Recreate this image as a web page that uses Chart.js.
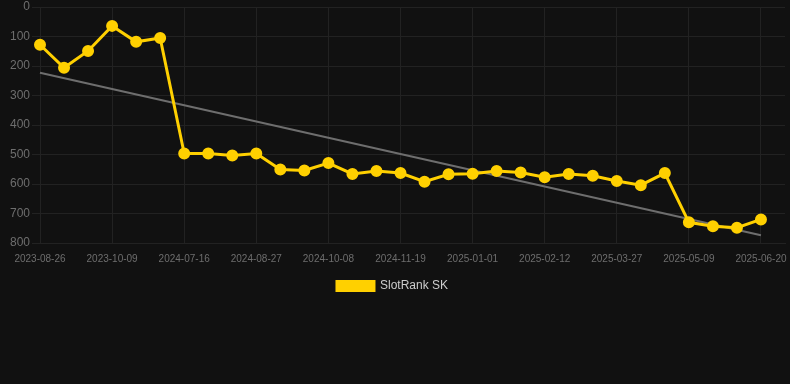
<!DOCTYPE html>
<html>
<head>
<meta charset="utf-8">
<script src="https://cdn.jsdelivr.net/npm/chart.js@4.4.1/dist/chart.umd.min.js"></script>
<style>
  html, body { margin: 0; padding: 0; background: #111111; }
  #wrap { width: 790px; height: 302px; }
</style>
</head>
<body>
<div id="wrap"><canvas id="rankChart"></canvas></div>
<script>
const labels = [
  '2023-08-26', '2023-09-09', '2023-09-23', '2023-10-09', '2023-10-23', '2023-11-06',
  '2024-07-16', '2024-07-30', '2024-08-13', '2024-08-27', '2024-09-10', '2024-09-24',
  '2024-10-08', '2024-10-22', '2024-11-05', '2024-11-19', '2024-12-03', '2024-12-17',
  '2025-01-01', '2025-01-15', '2025-01-29', '2025-02-12', '2025-02-26', '2025-03-12',
  '2025-03-27', '2025-04-10', '2025-04-24', '2025-05-09', '2025-05-23', '2025-06-06',
  '2025-06-20', '2025-07-04'
];
const rankSK = [
  128, 206, 149, 64, 118, 105,
  497, 497, 503, 497, 551, 554,
  529, 566, 556, 563, 592, 567,
  565, 556, 561, 577, 566, 572,
  590, 604, 563, 730, 743, 748,
  720, null
];
// trend line end points
const trendStart = 223;
const trendEnd = 774;
const trend = labels.map((l, i) => i === 0 ? trendStart : (i === 30 ? trendEnd : null));

const yTicks = [0, 100, 200, 300, 400, 500, 600, 700, 800];

const ctx = document.getElementById('rankChart');
new Chart(ctx, {
  type: 'line',
  data: {
    labels: labels,
    datasets: [{
      label: 'SlotRank SK',
      data: rankSK,
      borderColor: '#FFD000',
      backgroundColor: '#FFD000',
      borderWidth: 3,
      pointRadius: 4.5,
      pointHoverRadius: 6,
      tension: 0
    }, {
      label: 'trend',
      data: trend,
      borderColor: '#6e6e6e',
      borderWidth: 2,
      pointRadius: 0,
      spanGaps: true,
      tension: 0
    }]
  },
  options: {
    responsive: true,
    maintainAspectRatio: false,
    animation: false,
    layout: { autoPadding: false, padding: { right: 5 } },
    plugins: {
      legend: {
        position: 'bottom',
        labels: {
          color: '#cccccc',
          font: { size: 12 },
          boxWidth: 37,
          boxHeight: 9,
          padding: 5,
          filter: item => item.text !== 'trend'
        }
      },
      tooltip: { enabled: false }
    },
    scales: {
      x: {
        grid: { color: '#222222', drawTicks: false },
        border: { color: '#222222' },
        ticks: { color: '#6e6e6e', font: { size: 10 }, maxRotation: 0, padding: 10, autoSkipPadding: 3 },
        afterFit: s => { s.paddingRight = 0; }
      },
      y: {
        reverse: true,
        min: 0,
        max: 800,
        afterBuildTicks: axis => { axis.ticks = yTicks.map(v => ({ value: v })); },
        afterFit: s => { s.width = 40; s.paddingTop = 7; },
        grid: { color: '#222222' },
        border: { color: '#222222' },
        ticks: { color: '#6e6e6e', font: { size: 12 }, padding: 2 }
      }
    }
  }
});
</script>
</body>
</html>
